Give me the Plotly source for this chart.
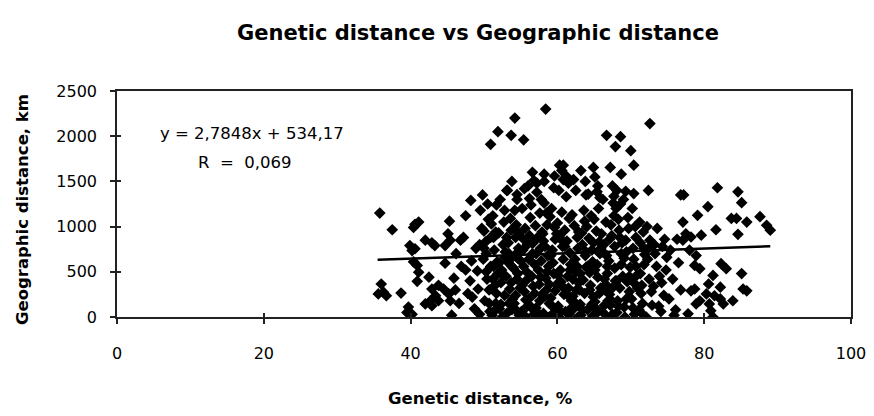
import plotly.graph_objects as go

# Genetic distance (%) values
genetic_pct = [
    # sparse points, upper area
    58.4, 54.2, 51.9, 53.7, 55.4, 50.9, 60.3, 58.2, 56.8, 53.8, 53.1, 49.8, 48.2, 54.5, 56.2, 57.8, 51.7,
    72.6, 66.7, 68.6, 67.9, 70.0, 70.4, 67.2, 64.9, 68.7, 65.1, 60.8, 72.4, 76.8, 65.4, 63.9, 68.1, 69.3, 70.4, 67.7,
    # right side
    77.2, 81.8, 84.6, 85.1, 80.5, 79.1, 84.4, 83.7, 85.8, 87.6, 88.5, 89.0, 81.6, 84.6, 77.1, 79.6, 77.5, 78.2, 77.1,
    78.0, 78.9, 78.7, 79.4, 82.3, 83.0, 85.1, 85.3, 85.8,
    81.2, 80.6, 82.2, 78.7, 78.2, 80.3, 81.4, 82.2, 79.4, 78.9, 80.7, 83.9, 82.6, 80.9, 77.8, 81.2,
    # left side
    35.8, 37.5, 40.6, 41.1, 40.4, 39.9, 40.6, 40.2, 42.0, 42.9, 43.3, 44.7, 45.4, 40.4, 40.9, 44.7, 41.1, 42.5, 40.9,
    36.0, 36.3, 35.6, 36.7, 38.7, 42.9, 43.8, 44.5, 43.4, 42.7, 43.8, 42.0, 42.9, 39.7, 39.5, 40.2, 45.2, 45.4,
    # dense centre
    45.3, 45.9, 46.2, 46.6, 45.6, 46.9, 45.1,
    47.2, 47.8, 48.3, 48.7, 47.5, 48.1, 48.9,
    49.1, 49.4, 49.7, 49.2, 49.9, 49.5,
    50.1, 50.4, 50.8, 50.2, 50.6, 50.9, 50.3, 50.7, 50.5, 50.0,
    51.1, 51.5, 51.8, 51.3, 51.6, 51.2, 51.9, 51.4, 51.7, 51.0,
    52.1, 52.4, 52.8, 52.2, 52.6, 52.9, 52.3, 52.7, 52.5, 52.0, 52.8,
    53.1, 53.5, 53.8, 53.3, 53.6, 53.2, 53.9, 53.4, 53.7, 53.0, 53.8, 53.2,
    54.1, 54.5, 54.8, 54.3, 54.6, 54.2, 54.9, 54.4, 54.7, 54.0, 54.5, 54.3,
    55.1, 55.5, 55.8, 55.3, 55.6, 55.2, 55.9, 55.4, 55.7, 55.0, 55.5, 55.6,
    56.1, 56.5, 56.8, 56.3, 56.6, 56.2, 56.9, 56.4, 56.7, 56.0, 56.5, 56.3, 56.6,
    57.1, 57.5, 57.8, 57.3, 57.6, 57.2, 57.9, 57.4, 57.7, 57.0, 57.5, 57.2, 57.6,
    58.1, 58.5, 58.8, 58.3, 58.6, 58.2, 58.9, 58.4, 58.7, 58.0, 58.5, 58.2, 58.9,
    59.1, 59.5, 59.8, 59.3, 59.6, 59.2, 59.9, 59.4, 59.7, 59.0, 59.5, 59.2, 59.6,
    60.1, 60.5, 60.8, 60.3, 60.6, 60.2, 60.9, 60.4, 60.7, 60.0, 60.8, 60.2, 60.6,
    61.1, 61.5, 61.8, 61.3, 61.6, 61.2, 61.9, 61.4, 61.7, 61.0, 61.5, 61.2, 61.6,
    62.1, 62.5, 62.8, 62.3, 62.2, 62.9, 62.4, 62.7, 62.0, 62.5, 62.8, 62.2, 62.6,
    63.1, 63.5, 63.8, 63.3, 63.6, 63.2, 63.9, 63.4, 63.7, 63.0, 63.8, 63.2,
    64.1, 64.5, 64.8, 64.3, 64.6, 64.2, 64.9, 64.4, 64.7, 64.0, 64.8,
    65.1, 65.5, 65.8, 65.3, 65.6, 65.2, 65.9, 65.4, 65.7, 65.0, 65.5, 65.8,
    66.1, 66.5, 66.8, 66.3, 66.6, 66.2, 66.9, 66.4, 66.7, 66.0, 66.8,
    67.1, 67.5, 67.8, 67.3, 67.6, 67.2, 67.9, 67.4, 67.7, 67.0, 67.5,
    68.1, 68.5, 68.8, 68.3, 68.6, 68.2, 68.9, 68.4, 68.7, 68.0,
    69.1, 69.5, 69.8, 69.3, 69.6, 69.2, 69.9, 69.4, 69.7, 69.0,
    70.1, 70.5, 70.8, 70.3, 70.6, 70.2, 70.9, 70.4, 70.7,
    71.1, 71.5, 71.8, 71.3, 71.6, 71.2, 71.9, 71.4, 71.7,
    72.1, 72.5, 72.8, 72.3, 72.6, 72.2, 72.9, 72.4,
    73.1, 73.5, 73.8, 73.3, 73.6, 73.2, 73.9,
    74.1, 74.5, 74.8, 74.3, 74.6, 74.2, 74.9,
    75.2, 75.7, 76.1, 76.5, 75.4, 76.8, 76.3, 75.9,
    # dense centre, lower band
    46.1, 47.5, 48.4, 49.4, 46.8,
    50.3, 50.7, 50.0, 50.9, 51.3, 51.7, 51.2, 51.6,
    52.3, 52.6, 52.9, 52.1, 53.4, 53.7, 53.1, 53.6,
    54.2, 54.6, 54.4, 54.8, 55.2, 55.7, 55.4, 55.9,
    56.4, 56.1, 56.7, 56.9, 57.3, 57.7, 57.1, 57.9,
    58.3, 58.6, 58.1, 58.9, 59.3, 59.7, 59.1, 59.9,
    60.4, 60.1, 60.8, 60.6, 61.3, 61.7, 61.0, 61.9,
    62.4, 62.1, 62.7, 62.9, 63.4, 63.1, 63.7, 63.9,
    64.4, 64.1, 64.7, 64.9, 65.3, 65.7, 65.1, 65.9,
    66.4, 66.8, 66.2, 66.6, 67.4, 67.8, 67.1, 67.6,
    68.3, 68.7, 68.5, 68.1, 69.4, 69.8, 69.1,
    70.3, 70.7, 70.4, 71.5, 71.3, 71.8,
]

# Geographic distance (km) values, same order as above
geographic_km = [
    2300, 2200, 2050, 2010, 1960, 1910, 1680, 1580, 1510, 1500, 1400, 1350, 1290, 1355, 1310, 1300, 1240,
    2140, 2010, 1995, 1885, 1840, 1680, 1655, 1655, 1580, 1550, 1680, 1400, 1350, 1385, 1350, 1400, 1390, 1365, 1335,
    1350, 1430, 1385, 1265, 1220, 1125, 1090, 1090, 1050, 1110, 1015, 960, 965, 915, 1050, 905, 920, 885, 850,
    740, 680, 570, 535, 590, 535, 480, 310, 290,
    460, 365, 330, 310, 290, 255, 235, 200, 180, 145, 145, 180, 145, 70, 35, 0,
    1150, 965, 1025, 1050, 990, 790, 755, 735, 850, 820, 790, 790, 850, 610, 570, 595, 495, 440, 395,
    365, 275, 255, 235, 265, 310, 350, 310, 235, 180, 180, 145, 125, 110, 50, 30, 255, 180,
    1060, 430, 700, 150, 20, 560, 920,
    880, 260, 620, 90, 1120, 400, 760,
    510, 30, 980, 310, 640, 1180,
    180, 420, 60, 830, 1080, 560, 700, 300, 1250, 950,
    20, 350, 610, 880, 150, 1120, 480, 740, 260, 1030,
    90, 520, 240, 1300, 800, 660, 380, 1050, 0, 930, 1180,
    40, 310, 560, 820, 1090, 1400, 200, 700, 960, 450, 80, 610,
    150, 420, 20, 880, 650, 1180, 320, 1020, 760, 540, 1300, 240,
    60, 280, 500, 740, 980, 1200, 120, 860, 400, 620, 1420, 10,
    200, 450, 30, 1100, 700, 900, 580, 1240, 340, 1450, 820, 120, 1600,
    100, 360, 620, 880, 1150, 1380, 250, 520, 760, 1010, 0, 1480, 180,
    40, 300, 560, 780, 1020, 1260, 150, 430, 680, 920, 1150, 1500, 0,
    210, 480, 80, 740, 990, 1200, 360, 600, 860, 1110, 1430, 20, 1560,
    120, 390, 640, 900, 1160, 1400, 250, 520, 780, 1040, 1520, 0, 1620,
    60, 320, 580, 840, 1090, 1330, 180, 450, 710, 960, 1480, 1560, 30,
    230, 500, 760, 1010, 90, 380, 640, 880, 1130, 1400, 0, 1520, 300,
    140, 410, 680, 930, 1180, 20, 550, 800, 1060, 300, 1500, 1620,
    80, 350, 610, 870, 1120, 1360, 220, 490, 740, 1000, 10,
    170, 440, 700, 950, 1200, 30, 320, 580, 830, 1080, 1450, 1320,
    60, 300, 560, 800, 1050, 1300, 180, 420, 680, 920, 0,
    250, 30, 780, 1020, 1260, 130, 400, 900, 1120, 620, 1450,
    50, 320, 820, 1080, 1250, 180, 450, 960, 700, 1200,
    110, 390, 280, 850, 1100, 0, 550, 720, 980, 1300,
    200, 30, 460, 760, 1000, 1200, 320, 640, 880,
    80, 350, 580, 820, 150, 1050, 690, 260, 940,
    0, 420, 280, 640, 850, 1000, 130, 760,
    340, 560, 120, 700, 980, 800, 450,
    60, 240, 520, 780, 860, 380, 660,
    200, 420, 80, 600, 740, 300, 860, 20,
    # dense centre, lower band
    300, 520, 220, 800, 850,
    500, 150, 760, 880, 560, 90, 420, 940,
    140, 460, 720, 600, 150, 380, 880, 640,
    90, 480, 700, 930, 350, 190, 560, 800,
    110, 640, 820, 260, 50, 440, 700, 940,
    230, 500, 840, 360, 120, 290, 680, 920,
    60, 460, 330, 850, 250, 520, 780, 100,
    160, 420, 560, 940, 80, 480, 260, 720,
    300, 560, 140, 820, 90, 260, 520, 760,
    130, 480, 720, 360, 180, 540, 860, 330,
    120, 580, 880, 400, 200, 450, 650,
    100, 560, 380, 40, 480, 760,
]

# Linear trend as printed on the chart
trend_slope = 2.7848
trend_intercept = 534.17
trend_x_range = [35.5, 89.0]

x_ticks = [0, 20, 40, 60, 80, 100]
y_ticks = [0, 500, 1000, 1500, 2000, 2500]
x_range = [0, 100]
y_range = [0, 2500]

assert len(genetic_pct) == len(geographic_km)

FONT = "DejaVu Sans, Liberation Sans, sans-serif"

fig = go.Figure()
fig.add_trace(go.Scatter(
    x=genetic_pct, y=geographic_km, mode="markers",
    marker=dict(symbol="diamond", size=9, color="black", line=dict(width=0)),
    showlegend=False, hoverinfo="skip",
))
fig.add_trace(go.Scatter(
    x=trend_x_range,
    y=[trend_slope * v + trend_intercept for v in trend_x_range],
    mode="lines", line=dict(color="black", width=2.5),
    showlegend=False, hoverinfo="skip",
))
# invisible trace on overlay axes so the inner tick halves are drawn
fig.add_trace(go.Scatter(
    x=[None], y=[None], xaxis="x2", yaxis="y2", mode="markers",
    showlegend=False, hoverinfo="skip",
))

axis_common = dict(
    showgrid=False, zeroline=False, showline=True, linecolor="#222", linewidth=1.5,
    mirror=True, ticks="outside", ticklen=5, tickcolor="#222", tickwidth=1.5,
    tickfont=dict(family=FONT, size=16, color="black"),
)
inner_common = dict(
    showgrid=False, zeroline=False, showline=False, ticks="inside", ticklen=4,
    tickcolor="#222", tickwidth=1.5, showticklabels=False,
)

fig.update_layout(
    width=874, height=416,
    margin=dict(l=109, r=31, t=83, b=107),
    paper_bgcolor="white", plot_bgcolor="white",
    title=dict(text="<b>Genetic distance vs Geographic distance</b>",
               x=470 / 874, xanchor="center", y=1 - 25 / 416, yanchor="middle",
               font=dict(family=FONT, size=21, color="black")),
    xaxis=dict(range=x_range, tickvals=x_ticks, ticklabelstandoff=16, **axis_common),
    yaxis=dict(range=y_range, tickvals=y_ticks, ticklabelstandoff=10, **axis_common),
    xaxis2=dict(range=x_range, tickvals=x_ticks, overlaying="x", side="bottom", **inner_common),
    yaxis2=dict(range=y_range, tickvals=y_ticks, overlaying="y", side="left", **inner_common),
    annotations=[
        dict(x=0.495, y=0, xref="paper", yref="paper", xanchor="center", yanchor="middle",
             yshift=-81, text="<b>Genetic distance, %</b>", showarrow=False,
             font=dict(family=FONT, size=16.5, color="black")),
        dict(x=0, y=0.473, xref="paper", yref="paper", xanchor="center", yanchor="middle",
             xshift=-95, textangle=-90, text="<b>Geographic distance, km</b>", showarrow=False,
             font=dict(family=FONT, size=16.5, color="black")),
        dict(x=5.6, y=2035, xref="x", yref="y", xanchor="left", yanchor="middle",
             text="y = 2,7848x + 534,17", showarrow=False,
             font=dict(family=FONT, size=16.5, color="black")),
        dict(x=10.8, y=1714, xref="x", yref="y", xanchor="left", yanchor="middle",
             text="R  =  0,069", showarrow=False,
             font=dict(family=FONT, size=16.5, color="black")),
    ],
)

fig.write_html("out.html")
